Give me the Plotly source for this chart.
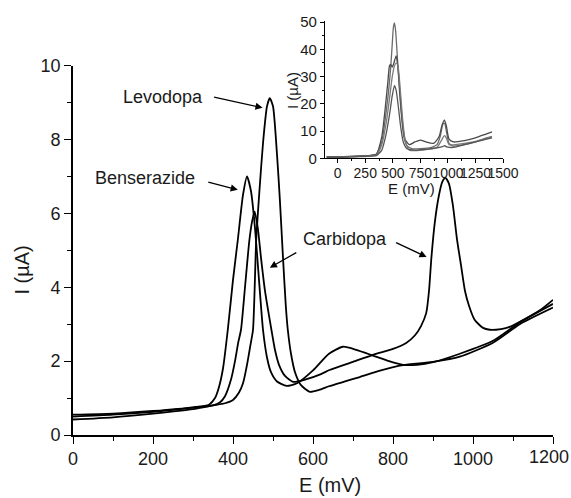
import plotly.graph_objects as go

# ---------------- main plot data (E in mV, I in uA) ----------------
benserazide_E = [0, 100, 200, 300, 340, 355, 365, 375, 387, 400, 412, 425, 435, 445, 455, 465, 475, 485, 495, 510, 534,
                 560, 600, 640, 675, 710, 750, 790, 825, 860, 900, 967, 1050, 1117, 1200]
benserazide_I = [0.55, 0.58, 0.65, 0.75, 0.82, 1.0, 1.3, 1.8, 2.85, 4.2, 5.28, 6.5, 7.0, 6.6, 5.6, 4.2, 2.85, 2.1, 1.7, 1.45, 1.33,
                 1.4, 1.75, 2.2, 2.39, 2.3, 2.15, 2.0, 1.9, 1.9, 1.97, 2.2, 2.55, 3.05, 3.55]

carbidopa_E = [0, 100, 200, 300, 350, 367, 380, 395, 405, 413, 420, 430, 441, 448, 454, 462, 470, 480, 496, 505, 515, 530, 550,
               580, 620, 641, 700, 750, 800, 833, 855, 870, 883, 890, 896, 905, 915, 923, 931, 940, 950, 960, 970, 980, 990,
               1004, 1025, 1042, 1070, 1092, 1133, 1170, 1200]
carbidopa_I = [0.5, 0.55, 0.63, 0.74, 0.8, 0.88, 1.05, 1.5, 2.0, 2.5, 2.85, 4.0, 5.28, 5.8, 6.05, 5.6, 4.8, 3.9, 2.85, 2.3, 1.9, 1.6, 1.44,
               1.5, 1.65, 1.76, 1.98, 2.17, 2.33, 2.49, 2.7, 2.95, 3.3, 3.9, 4.8, 5.8, 6.5, 6.85, 6.96, 6.8, 6.2, 5.3, 4.6, 3.9, 3.5,
               3.12, 2.9, 2.85, 2.87, 2.93, 3.16, 3.4, 3.66]

levodopa_E = [0, 100, 200, 300, 350, 380, 400, 415, 425, 435, 443, 450, 458, 466, 475, 485, 492, 500, 510, 517, 525, 532, 537,
              545, 555, 570, 592, 615, 640, 680, 717, 770, 825, 900, 967, 1050, 1117, 1200]
levodopa_I = [0.42, 0.48, 0.58, 0.7, 0.8, 0.86, 0.95, 1.15, 1.4, 1.9, 2.4, 2.85, 5.28, 6.6, 7.9, 8.9, 9.12, 8.9, 7.6, 6.4, 4.8, 3.5, 2.85,
              2.2, 1.7, 1.35, 1.17, 1.22, 1.32, 1.45, 1.57, 1.75, 1.89, 1.98, 2.12, 2.5, 3.0, 3.45]

# ---------------- inset data ----------------
inA_E = [-100, 0, 100, 200, 300, 350, 400, 430, 460, 480, 495, 505, 515, 525, 540, 560, 580, 600, 630, 680, 750, 850, 900,
         930, 955, 970, 990, 1010, 1050, 1150, 1250, 1350, 1400]
inA_I = [0.5, 0.5, 0.6, 0.8, 1.0, 1.5, 6, 14, 24, 33, 42, 48, 49.7, 47, 38, 25, 15, 8, 4.5, 3.5, 3.5, 4, 5,
         8, 12.6, 12.8, 9, 5.5, 4.5, 5, 6, 7.5, 8.0]

inB_E = [-100, 0, 100, 200, 300, 350, 400, 430, 455, 470, 480, 495, 510, 530, 545, 565, 585, 610, 650, 700, 750, 800, 870,
         920, 945, 968, 985, 1010, 1050, 1150, 1250, 1350, 1400]
inB_I = [0.6, 0.6, 0.7, 0.9, 1.1, 1.5, 8, 18, 28, 34, 34.5, 33.5, 35, 37.6, 34, 24, 14, 7, 5, 6, 6.7, 6, 5.5,
         8, 12, 14.0, 12, 7, 6, 6.5, 7.5, 9, 9.7]

inC_E = [-100, 0, 100, 200, 300, 350, 400, 440, 470, 495, 515, 535, 550, 570, 590, 615, 650, 700, 800, 900, 940, 968, 985,
         1010, 1100, 1200, 1300, 1400]
inC_I = [0.4, 0.4, 0.5, 0.7, 0.9, 1.2, 5, 13, 22, 30, 34, 35, 33, 24, 14, 6, 3, 2.8, 3.2, 4, 6.5, 8.3, 7.5,
         5, 5.2, 5.8, 6.8, 8.0]

inD_E = [-100, 0, 100, 200, 300, 350, 400, 440, 470, 495, 515, 530, 550, 570, 595, 630, 700, 800, 900, 950, 970, 990,
         1050, 1150, 1250, 1350, 1400]
inD_I = [0.3, 0.3, 0.4, 0.6, 0.8, 1.0, 3, 9, 16, 23, 26.7, 25, 19, 12, 6, 3.5, 3, 3.3, 3.8, 4.3, 4.6, 4.2,
         4, 5, 6, 7, 7.5]

main_xticks = [0, 200, 400, 600, 800, 1000, 1200]
main_xticktext = ["0", "200", "400", "600", "800", "1000", ""]   # last label placed as annotation (edge)
main_yticks = [0, 2, 4, 6, 8, 10]
inset_xticks = [0, 250, 500, 750, 1000, 1250, 1500]
inset_yticks = [0, 10, 20, 30, 40, 50]

FONT = "Liberation Sans, Arial, sans-serif"

fig = go.Figure()
for E, I in [(benserazide_E, benserazide_I), (carbidopa_E, carbidopa_I), (levodopa_E, levodopa_I)]:
    fig.add_trace(go.Scatter(x=E, y=I, mode="lines", line=dict(color="black", width=1.8, shape="spline", smoothing=0.6),
                             showlegend=False, hoverinfo="skip"))
inset_colors = ["#6a6a6a", "#4a4a4a", "#7a7a7a", "#555555"]
for (E, I), c in zip([(inA_E, inA_I), (inB_E, inB_I), (inC_E, inC_I), (inD_E, inD_I)], inset_colors):
    fig.add_trace(go.Scatter(x=E, y=I, mode="lines", xaxis="x2", yaxis="y2",
                             line=dict(color=c, width=1.3, shape="spline", smoothing=0.6),
                             showlegend=False, hoverinfo="skip"))

axis_common = dict(showline=True, linecolor="black", ticks="outside", tickcolor="black",
                   showgrid=False, zeroline=False, mirror=False, automargin=False,
                   ticklabeloverflow="allow")

fig.update_layout(
    width=571, height=498,
    margin=dict(l=73, r=18, t=15, b=63),
    paper_bgcolor="white", plot_bgcolor="white",
    font=dict(family=FONT, color="#1a1a1a", size=18),
    xaxis=dict(range=[0, 1200], tickvals=main_xticks, ticktext=main_xticktext, linewidth=1.6, tickwidth=1.4, ticklen=7,
               minor=dict(dtick=100, ticklen=4, tickwidth=1.2, ticks="outside", tickcolor="black"),
               tickfont=dict(size=18, family=FONT), domain=[0, 1], anchor="y", **axis_common),
    yaxis=dict(range=[0, 10], tickvals=main_yticks, linewidth=1.6, tickwidth=1.4, ticklen=7,
               minor=dict(dtick=1, ticklen=4, tickwidth=1.2, ticks="outside", tickcolor="black"),
               tickfont=dict(size=18, family=FONT), domain=[0, 0.8793], anchor="x", **axis_common),
    xaxis2=dict(range=[-115, 1500], tickvals=inset_xticks, linewidth=1.2, tickwidth=1.0, ticklen=4,
                minor=dict(dtick=125, ticklen=2, tickwidth=1.0, ticks="outside", tickcolor="black"),
                tickfont=dict(size=14, family=FONT), domain=[0.525, 0.896], anchor="y2", ticklabelstandoff=-2,
                tickangle=0, **axis_common),
    yaxis2=dict(range=[0, 50.5], tickvals=inset_yticks, linewidth=1.2, tickwidth=1.0, ticklen=4,
                minor=dict(dtick=5, ticklen=2, tickwidth=1.0, ticks="outside", tickcolor="black"),
                tickfont=dict(size=15, family=FONT), domain=[0.6588, 0.9864], anchor="x2", ticklabelstandoff=0,
                **axis_common),
)

ann = []
# last main x tick label, nudged inside the page edge
ann.append(dict(text=str(main_xticks[-1]), x=main_xticks[-1], y=0, xref="x", yref="y", showarrow=False,
                xanchor="center", yanchor="top", xshift=-4, yshift=-10, font=dict(size=18, family=FONT)))
# axis titles
ann.append(dict(text="E (mV)", xref="paper", yref="paper", x=0.535, y=-0.119, showarrow=False,
                font=dict(size=20, family=FONT), xanchor="center", yanchor="middle"))
ann.append(dict(text="I (µA)", xref="paper", yref="paper", x=-0.107, y=0.393, showarrow=False, textangle=-90,
                font=dict(size=20, family=FONT), xanchor="center", yanchor="middle"))
ann.append(dict(text="E (mV)", xref="paper", yref="paper", x=0.706, y=0.586, showarrow=False,
                font=dict(size=15, family=FONT), xanchor="center", yanchor="middle"))
ann.append(dict(text="I (µA)", xref="paper", yref="paper", x=0.456, y=0.821, showarrow=False, textangle=-90,
                font=dict(size=15, family=FONT), xanchor="center", yanchor="middle"))
# labels
ann.append(dict(text="Levodopa", x=225, y=9.16, xref="x", yref="y", showarrow=False, font=dict(size=18, family=FONT)))
ann.append(dict(text="Benserazide", x=179, y=6.96, xref="x", yref="y", showarrow=False, font=dict(size=18, family=FONT)))
ann.append(dict(text="Carbidopa", x=679, y=5.3, xref="x", yref="y", showarrow=False, font=dict(size=18, family=FONT)))
# arrows
arrow_style = dict(showarrow=True, arrowhead=2, arrowsize=1.1, arrowwidth=1.3, arrowcolor="black", text="",
                   xref="x", yref="y", standoff=0)
ann.append(dict(x=474, y=8.86, ax=-50, ay=-11, **arrow_style))
ann.append(dict(x=412, y=6.64, ax=-31, ay=-8, **arrow_style))
ann.append(dict(x=492, y=4.53, ax=28, ay=-16, **arrow_style))
ann.append(dict(x=884, y=4.82, ax=-32, ay=-15, **arrow_style))
fig.update_layout(annotations=ann)

fig.write_html("out.html", config={"displayModeBar": False},
               post_script="document.body.style.margin='0';document.body.style.overflow='hidden';")
